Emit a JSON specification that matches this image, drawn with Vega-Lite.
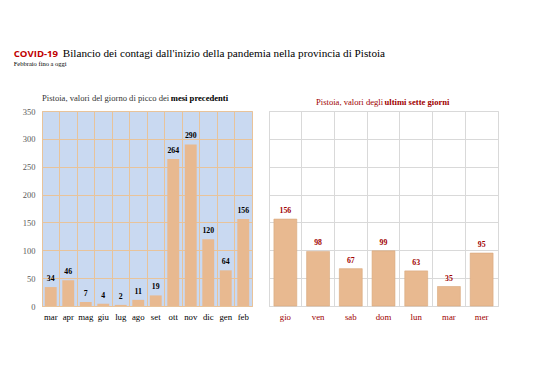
{
  "$schema": "https://vega.github.io/schema/vega-lite/v6.json",
  "background": "#ffffff",
  "padding": {"left": 13, "top": 47, "right": 5, "bottom": 5},
  "title": {
    "text": "COVID-19",
    "subtitle": "Febbraio fino a oggi",
    "anchor": "start",
    "frame": "bounds",
    "font": "Open Sans",
    "fontSize": 9.6,
    "fontWeight": "bold",
    "color": "#c00000",
    "subtitleFont": "Liberation Serif",
    "subtitleFontSize": 6.5,
    "subtitleColor": "#000000",
    "subtitlePadding": 3,
    "offset": 4,
    "dx": -8,
    "dy": 24
  },
  "datasets": {
    "mesi": [
      {"mese": "mar", "valore": 34},
      {"mese": "apr", "valore": 46},
      {"mese": "mag", "valore": 7},
      {"mese": "giu", "valore": 4},
      {"mese": "lug", "valore": 2},
      {"mese": "ago", "valore": 11},
      {"mese": "set", "valore": 19},
      {"mese": "ott", "valore": 264},
      {"mese": "nov", "valore": 290},
      {"mese": "dic", "valore": 120},
      {"mese": "gen", "valore": 64},
      {"mese": "feb", "valore": 156}
    ],
    "giorni": [
      {"giorno": "gio", "valore": 156},
      {"giorno": "ven", "valore": 98},
      {"giorno": "sab", "valore": 67},
      {"giorno": "dom", "valore": 99},
      {"giorno": "lun", "valore": 63},
      {"giorno": "mar", "valore": 35},
      {"giorno": "mer", "valore": 95}
    ]
  },
  "vconcat": [
    {
      "title": {
        "text": "Bilancio dei contagi dall'inizio della pandemia nella provincia di Pistoia",
        "anchor": "start",
        "frame": "bounds",
        "font": "Liberation Serif",
        "fontSize": 11.2,
        "fontWeight": "normal",
        "color": "#000000",
        "dx": 41,
        "offset": 35
      },
      "spacing": 15,
      "hconcat": [
        {
          "title": {
            "text": "mesi precedenti",
            "anchor": "start",
            "frame": "bounds",
            "font": "Liberation Serif",
            "fontSize": 8.6,
            "fontWeight": "bold",
            "color": "#000000",
            "offset": 0,
            "dx": 149,
            "dy": 8.6
          },
          "vconcat": [
            {
              "width": 210,
              "height": 195,
              "data": {"name": "mesi"},
              "view": {"fill": "#c9d9f1", "stroke": "#e8c39a", "strokeWidth": 1},
              "title": {
                "text": "Pistoia, valori del giorno di picco dei",
                "anchor": "start",
                "frame": "group",
                "font": "Liberation Serif",
                "fontSize": 8.6,
                "fontWeight": "normal",
                "color": "#333333",
                "offset": 4
              },
              "encoding": {
                "x": {
                  "field": "mese",
                  "type": "nominal",
                  "sort": null,
                  "scale": {"paddingInner": 0, "paddingOuter": 0},
                  "axis": {
                    "title": null,
                    "labelAngle": 0,
                    "grid": true,
                    "gridColor": "#e8c39a",
                    "gridWidth": 1,
                    "bandPosition": 0,
                    "ticks": false,
                    "domain": true,
                    "domainColor": "#e8c39a",
                    "labelFont": "Liberation Serif",
                    "labelFontSize": 8.8,
                    "labelColor": "#000000",
                    "labelPadding": 6
                  }
                },
                "y": {
                  "field": "valore",
                  "type": "quantitative",
                  "scale": {"domain": [0, 350], "nice": false},
                  "axis": {
                    "title": null,
                    "values": [0, 50, 100, 150, 200, 250, 300, 350],
                    "grid": true,
                    "gridColor": "#e8c39a",
                    "gridWidth": 1,
                    "ticks": false,
                    "domain": false,
                    "labelFont": "Liberation Serif",
                    "labelFontSize": 8.5,
                    "labelColor": "#595959",
                    "labelPadding": 7
                  }
                }
              },
              "layer": [
                {"mark": {"type": "bar", "color": "#e8b990", "width": {"band": 0.68}}},
                {
                  "mark": {
                    "type": "text",
                    "baseline": "bottom",
                    "dy": -4,
                    "font": "Liberation Serif",
                    "fontSize": 7.8,
                    "fontWeight": "bold",
                    "color": "#000000"
                  },
                  "encoding": {"text": {"field": "valore", "type": "quantitative"}}
                }
              ]
            }
          ]
        },
        {
          "title": {
            "text": "ultimi sette giorni",
            "anchor": "start",
            "frame": "bounds",
            "font": "Liberation Serif",
            "fontSize": 8.6,
            "fontWeight": "bold",
            "color": "#a00000",
            "offset": 0,
            "dx": 116,
            "dy": 8.6
          },
          "vconcat": [
            {
              "width": 229,
              "height": 195,
              "data": {"name": "giorni"},
              "view": {"fill": "#ffffff", "stroke": "#d9d9d9", "strokeWidth": 1},
              "title": {
                "text": "Pistoia, valori degli",
                "anchor": "start",
                "frame": "group",
                "font": "Liberation Serif",
                "fontSize": 8.6,
                "fontWeight": "normal",
                "color": "#a00000",
                "offset": 4,
                "dx": 47
              },
              "encoding": {
                "x": {
                  "field": "giorno",
                  "type": "nominal",
                  "sort": null,
                  "scale": {"paddingInner": 0, "paddingOuter": 0},
                  "axis": {
                    "title": null,
                    "labelAngle": 0,
                    "grid": true,
                    "gridColor": "#d9d9d9",
                    "gridWidth": 1,
                    "bandPosition": 0,
                    "ticks": false,
                    "domain": true,
                    "domainColor": "#d9d9d9",
                    "labelFont": "Liberation Serif",
                    "labelFontSize": 8.8,
                    "labelColor": "#a00000",
                    "labelPadding": 6
                  }
                },
                "y": {
                  "field": "valore",
                  "type": "quantitative",
                  "scale": {"domain": [0, 350], "nice": false},
                  "axis": {
                    "title": null,
                    "values": [0, 50, 100, 150, 200, 250, 300, 350],
                    "grid": true,
                    "gridColor": "#d9d9d9",
                    "gridWidth": 1,
                    "ticks": false,
                    "domain": false,
                    "labels": false
                  }
                }
              },
              "layer": [
                {"mark": {"type": "bar", "color": "#e8b990", "stroke": "#d9a77c", "strokeWidth": 0.6, "width": {"band": 0.7}}},
                {
                  "mark": {
                    "type": "text",
                    "baseline": "bottom",
                    "dy": -4,
                    "font": "Liberation Serif",
                    "fontSize": 7.8,
                    "fontWeight": "bold",
                    "color": "#a00000"
                  },
                  "encoding": {"text": {"field": "valore", "type": "quantitative"}}
                }
              ]
            }
          ]
        }
      ]
    }
  ]
}
